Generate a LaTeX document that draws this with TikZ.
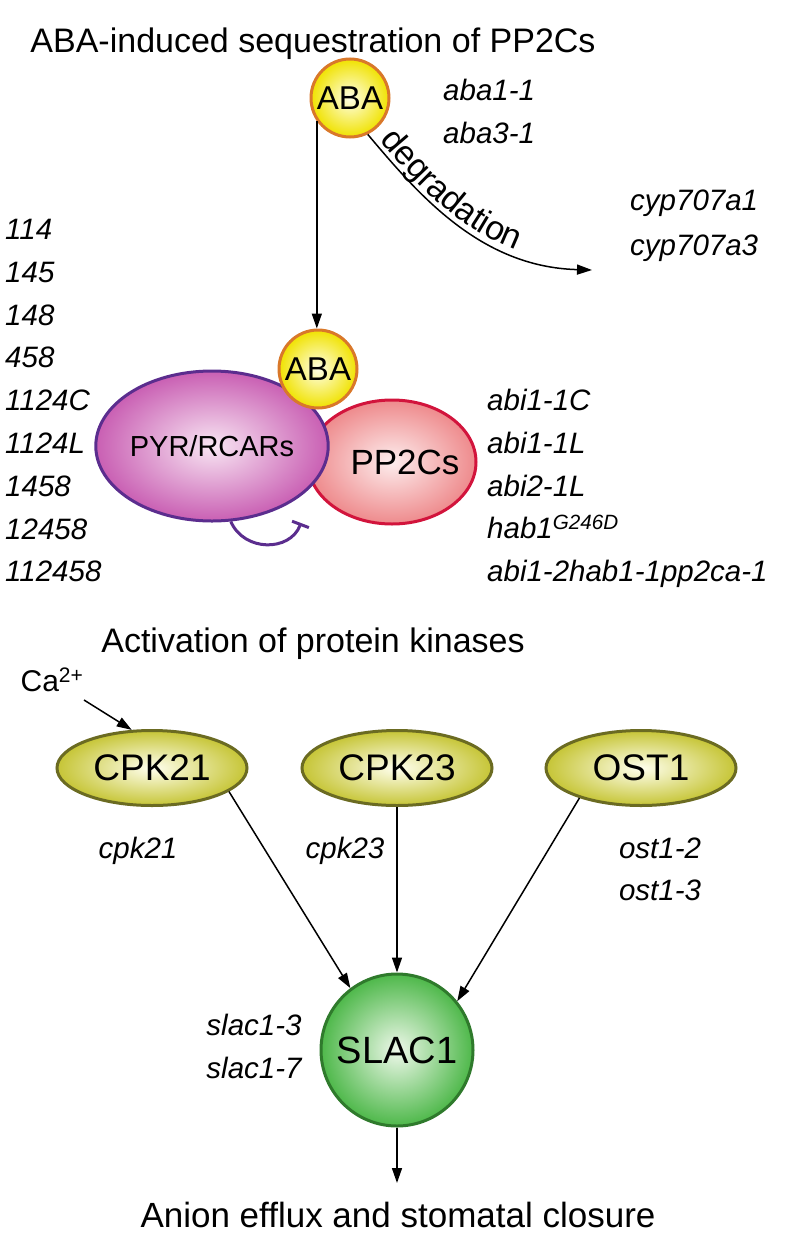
\documentclass[tikz,border=0pt]{standalone}
\usepackage{fontspec}
\setmainfont{Liberation Sans}
\usetikzlibrary{shapes.geometric,arrows.meta,decorations.text,calc}
\definecolor{abaedge}{HTML}{D9782A}
\definecolor{abaout}{HTML}{F0E200}
\definecolor{abain}{HTML}{FFFFE6}
\definecolor{pyredge}{HTML}{5B2D8E}
\definecolor{pyrout}{HTML}{C95FB3}
\definecolor{pyrin}{HTML}{F8E6F3}
\definecolor{ppedge}{HTML}{D2143C}
\definecolor{ppout}{HTML}{EE8A8C}
\definecolor{ppin}{HTML}{FDEDED}
\definecolor{cpkedge}{HTML}{6B6B22}
\definecolor{cpkout}{HTML}{C6C536}
\definecolor{cpkin}{HTML}{FFFFEE}
\definecolor{slacedge}{HTML}{2F7A2C}
\definecolor{slacout}{HTML}{4EB84A}
\definecolor{slacin}{HTML}{EEF8EA}
\begin{document}
\begin{tikzpicture}[x=1pt,y=-1pt,
  lab/.style={font=\fontsize{29.5}{32}\selectfont\itshape, anchor=west, inner sep=0pt, text height=21pt, text depth=0pt},
  heading/.style={font=\fontsize{34}{38}\selectfont, inner sep=0pt, text height=24pt, text depth=0pt},
  arr/.style={line width=1.5pt, -{Triangle[length=15pt,width=10pt]}},
  ababall/.style={circle, draw=abaedge, line width=3pt, shade, inner color=abain, outer color=abaout, minimum size=78pt, inner sep=0pt, font=\fontsize{33}{36}\selectfont},
  kinase/.style={ellipse, draw=cpkedge, line width=3pt, shade, inner color=cpkin, outer color=cpkout, minimum width=190pt, minimum height=75pt, inner sep=0pt, font=\fontsize{37}{40}\selectfont}
]
\useasboundingbox (0,0) rectangle (797,1242);
% title
\node[heading] (title) at (313,40) {ABA-induced sequestration of PP2Cs};
% top ABA
\node[ababall] (aba1) at (350,98) {ABA};
\node[lab] (l-aba11) at (443,90) {aba1-1};
\node[lab] (l-aba31) at (443,133) {aba3-1};
% complex
\node[ellipse, draw=ppedge, line width=3pt, shade, inner color=ppin, outer color=ppout, minimum width=168pt, minimum height=124pt, inner sep=0pt] (pp2c) at (392,462) {};
\node[ellipse, draw=pyredge, line width=3pt, shade, inner color=pyrin, outer color=pyrout, minimum width=214pt, minimum height=150pt, inner sep=0pt, font=\fontsize{29}{32}\selectfont] (pyr) at (212,446) {PYR/RCARs};
\node[font=\fontsize{35}{38}\selectfont, inner sep=0pt] (pp2ct) at (405,462) {PP2Cs};
\node[ababall] (aba2) at (318,369) {ABA};
% arrows top
\draw[arr] (aba1.-145) -- (aba1.-145 |- aba2.north);
\coordinate (degend) at (592,270);
\draw[arr] (aba1.-64) .. controls (418,194) and (480,267) .. (degend);
\path[decorate, decoration={text along path, text align={left, left indent=12pt}, raise=5pt, text={|\fontsize{34}{36}\selectfont|degradation}}] (aba1.-64) .. controls (418,194) and (480,267) .. (degend);
\node[lab] (l-cyp1) at (630,200) {cyp707a1};
\node[lab] (l-cyp3) at (630,245) {cyp707a3};
% inhibition
\coordinate (bar) at (301,523);
\draw[pyredge, line width=3pt, -{Bar[width=18pt]}] (pyr.-76) .. controls (244,552) and (290,552) .. (bar);
% left list
\foreach \t [count=\i from 0] in {114,145,148,458,1124C,1124L,1458,12458,112458}
  \node[lab] (left\i) at (5,229+42.8*\i) {\t};
% right list
\node[lab] (r0) at (487,400) {abi1-1C};
\node[lab] (r1) at (487,443) {abi1-1L};
\node[lab] (r2) at (487,486) {abi2-1L};
\node[lab] (r3) at (487,528) {hab1\textsuperscript{G246D}};
\node[lab] (r4) at (487,571) {abi1-2hab1-1pp2ca-1};
% kinases
\node[heading] (act) at (313,640) {Activation of protein kinases};
\node[font=\fontsize{30}{34}\selectfont, inner sep=0pt] (ca) at (52,680) {Ca\textsuperscript{2+}};
\node[kinase] (cpk21) at (152,768) {CPK21};
\node[kinase] (cpk23) at (397,768) {CPK23};
\node[kinase] (ost1) at (641,768) {OST1};
\coordinate (castart) at (84,700);
\draw[arr] (castart) -- (cpk21.118);
\node[lab, anchor=center] (l-cpk21) at (138,848) {cpk21};
\node[lab, anchor=center] (l-cpk23) at (345,848) {cpk23};
\node[lab, anchor=center] (l-ost12) at (660,848) {ost1-2};
\node[lab, anchor=center] (l-ost13) at (660,890) {ost1-3};
% SLAC1
\node[circle, draw=slacedge, line width=3pt, shade, inner color=slacin, outer color=slacout, minimum size=152pt, inner sep=0pt, font=\fontsize{38}{42}\selectfont] (slac) at (397,1050) {SLAC1};
\node[lab, anchor=center] (l-s3) at (254,1025) {slac1-3};
\node[lab, anchor=center] (l-s7) at (254,1068) {slac1-7};
\draw[arr] (cpk21.-17) -- (slac.127);
\draw[arr] (cpk23.south) -- (slac.north);
\draw[arr] (ost1.-154) -- (slac.39);
\node[heading, font=\fontsize{35}{38}\selectfont] (out) at (398,1215) {Anion efflux and stomatal closure};
\coordinate (outtop) at (397,1183);
\draw[arr] (slac.south) -- (outtop);
\end{tikzpicture}
\end{document}
